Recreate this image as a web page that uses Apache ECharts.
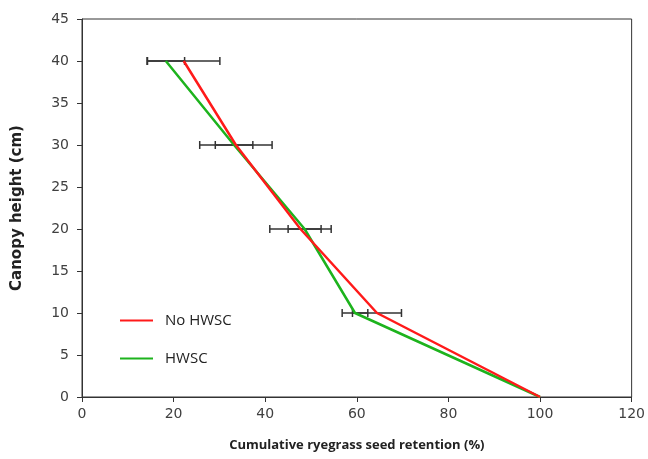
<!DOCTYPE html>
<html>
<head>
<meta charset="utf-8">
<script src="https://cdn.jsdelivr.net/npm/echarts@6/dist/echarts.min.js"></script>
<style>
  html, body { margin: 0; padding: 0; background: #fff; }
  #chart { width: 648px; height: 459px; }
</style>
</head>
<body>
<div id="chart"></div>
<script>
// canopy heights (cm)
const heights = [40, 30, 20, 10, 0];
// cumulative retention (%)
const noHwsc = [22.2, 33.6, 47.7, 64.4, 100];
const hwsc = [18.3, 33.2, 48.6, 59.6, 100];
// error bar half widths (%)
const noHwscErr = [7.9, 7.9, 6.7, 5.35, 0];
const hwscErr = [4.1, 4.1, 3.6, 2.8, 0];

const toPoints = (vals) => vals.map((v, i) => [v, heights[i]]);
const toBars = (vals, errs) => vals
  .map((v, i) => [heights[i], v - errs[i], v + errs[i]])
  .filter((d, i) => errs[i] > 0);

function renderErr(params, api) {
  const y = api.value(0);
  const a = api.coord([api.value(1), y]);
  const b = api.coord([api.value(2), y]);
  const cap = 4;
  const style = { stroke: '#333', lineWidth: 1.5 };
  return {
    type: 'group',
    children: [
      { type: 'line', shape: { x1: a[0], y1: a[1], x2: b[0], y2: b[1] }, style },
      { type: 'line', shape: { x1: a[0], y1: a[1] - cap, x2: a[0], y2: a[1] + cap }, style },
      { type: 'line', shape: { x1: b[0], y1: b[1] - cap, x2: b[0], y2: b[1] + cap }, style }
    ]
  };
}

const chart = echarts.init(document.getElementById('chart'));
chart.setOption({
  animation: false,
  grid: {
    left: 82, right: 16, top: 19, bottom: 62,
    show: true, borderColor: '#333', borderWidth: 1
  },
  legend: {
    data: ['No HWSC', 'HWSC'],
    orient: 'vertical',
    left: 115, top: 308,
    itemWidth: 33, itemHeight: 2, itemGap: 23,
    icon: 'rect',
    textStyle: { fontFamily: 'Open Sans', fontSize: 15, color: '#222', padding: [0, 0, 0, 7] }
  },
  xAxis: {
    type: 'value',
    min: 0, max: 120, interval: 20,
    name: 'Cumulative ryegrass seed retention (%)',
    nameLocation: 'middle', nameGap: 42,
    nameTextStyle: { fontFamily: 'Open Sans', fontWeight: 'bold', fontSize: 13, color: '#222' },
    axisLine: { lineStyle: { color: '#333', width: 1 } },
    axisTick: { show: true, length: 5, lineStyle: { color: '#333' } },
    axisLabel: { fontFamily: 'DejaVu Sans', fontSize: 14, color: '#404040', margin: 10 },
    splitLine: { show: false }
  },
  yAxis: {
    type: 'value',
    min: 0, max: 45, interval: 5,
    name: 'Canopy height (cm)',
    nameLocation: 'middle', nameGap: 57, nameRotate: 90,
    nameTextStyle: { fontFamily: 'DejaVu Sans', fontWeight: 'bold', fontSize: 15, color: '#222' },
    axisLine: { show: true, lineStyle: { color: '#333', width: 1 } },
    axisTick: { show: true, length: 5, lineStyle: { color: '#333' } },
    axisLabel: { fontFamily: 'DejaVu Sans', fontSize: 14, color: '#404040', margin: 13 },
    splitLine: { show: false }
  },
  series: [
    {
      type: 'custom', name: 'errNo', renderItem: renderErr,
      data: toBars(noHwsc, noHwscErr), encode: { x: [1, 2], y: 0 }, z: 1
    },
    {
      type: 'custom', name: 'errH', renderItem: renderErr,
      data: toBars(hwsc, hwscErr), encode: { x: [1, 2], y: 0 }, z: 1
    },
    {
      name: 'No HWSC', type: 'line', data: toPoints(noHwsc),
      symbol: 'none', lineStyle: { color: '#ff1a1a', width: 2.5 }, itemStyle: { color: '#ff1a1a' }, z: 3
    },
    {
      name: 'HWSC', type: 'line', data: toPoints(hwsc),
      symbol: 'none', lineStyle: { color: '#1db31d', width: 2.5 }, itemStyle: { color: '#1db31d' }, z: 2
    }
  ]
});
</script>
</body>
</html>
